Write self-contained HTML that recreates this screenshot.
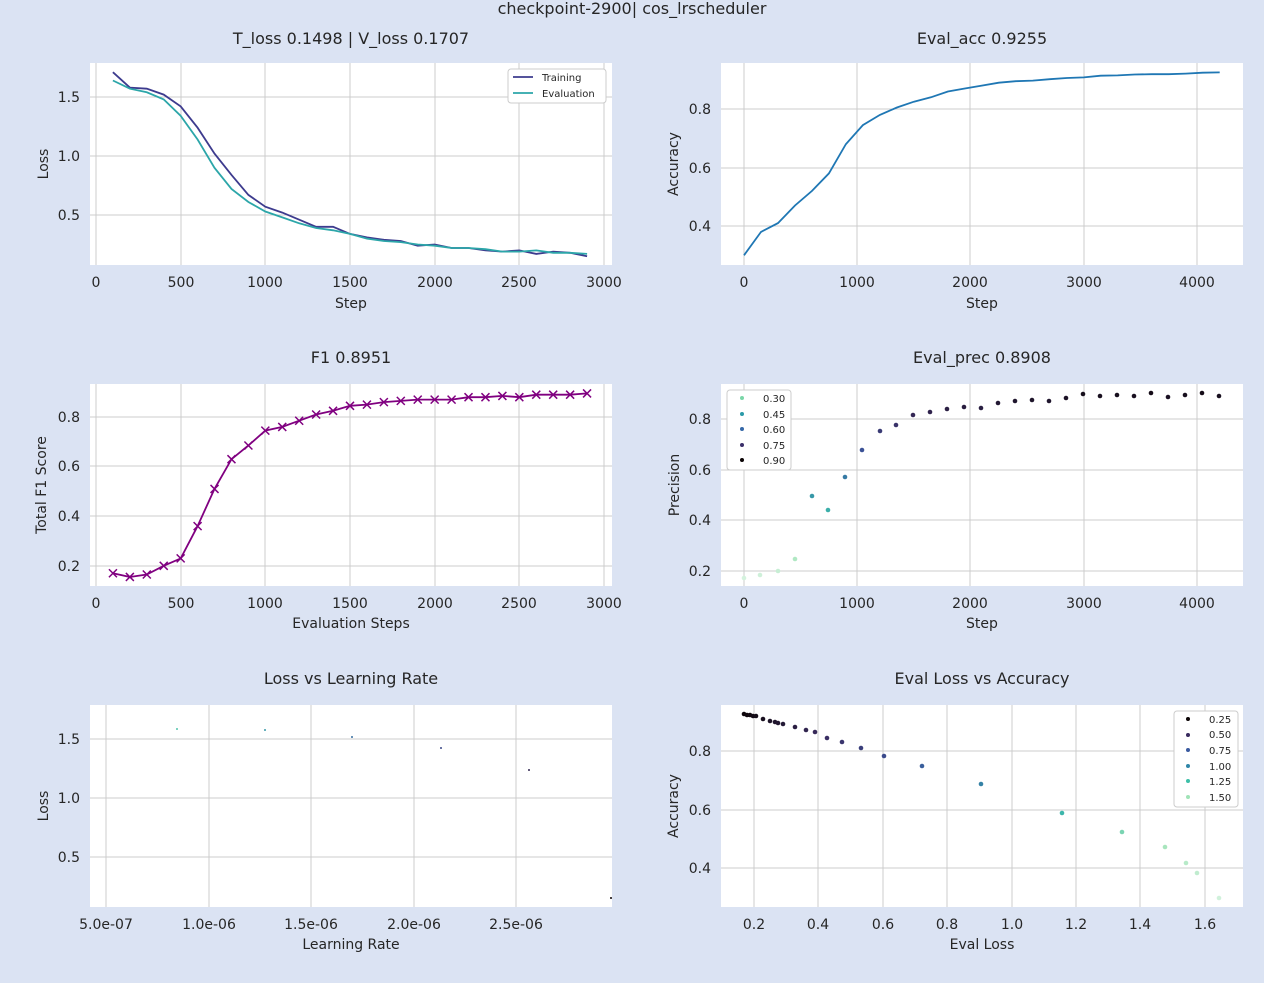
<!DOCTYPE html>
<html><head><meta charset="utf-8"><style>
html,body{margin:0;padding:0;background:#dbe3f3;}
svg{display:block;font-family:"DejaVu Sans","Liberation Sans",sans-serif;}
.t{font-size:16px;fill:#262626;text-anchor:middle}
.k{font-size:14px;fill:#262626}
.g{stroke:#cccccc;stroke-width:1}
</style></head><body>
<svg id="s" width="1264" height="983" xmlns="http://www.w3.org/2000/svg">
<rect width="1264" height="983" fill="#dbe3f3"/>
<text class="t" x="632" y="14">checkpoint-2900| cos_lrscheduler</text>
<rect x="90" y="63" width="522" height="202" fill="#fff"/>
<rect x="721" y="63" width="522" height="202" fill="#fff"/>
<rect x="90" y="384" width="522" height="202" fill="#fff"/>
<rect x="721" y="384" width="522" height="202" fill="#fff"/>
<rect x="90" y="705" width="522" height="202" fill="#fff"/>
<rect x="721" y="705" width="522" height="202" fill="#fff"/>
<g id="grids"></g>
<g id="data"></g>
<text class="t" x="351" y="44">T_loss 0.1498 | V_loss 0.1707</text>
<text class="t" x="982" y="44">Eval_acc 0.9255</text>
<text class="t" x="351" y="363">F1 0.8951</text>
<text class="t" x="982" y="363">Eval_prec 0.8908</text>
<text class="t" x="351" y="684">Loss vs Learning Rate</text>
<text class="t" x="982" y="684">Eval Loss vs Accuracy</text>
<g class="k" text-anchor="middle">
<text x="96" y="287">0</text><text x="181" y="287">500</text><text x="265" y="287">1000</text><text x="350" y="287">1500</text><text x="435" y="287">2000</text><text x="519" y="287">2500</text><text x="604" y="287">3000</text>
<text x="744" y="287">0</text><text x="857" y="287">1000</text><text x="970" y="287">2000</text><text x="1084" y="287">3000</text><text x="1197" y="287">4000</text>
<text x="96" y="608">0</text><text x="181" y="608">500</text><text x="265" y="608">1000</text><text x="350" y="608">1500</text><text x="435" y="608">2000</text><text x="519" y="608">2500</text><text x="604" y="608">3000</text>
<text x="744" y="608">0</text><text x="857" y="608">1000</text><text x="970" y="608">2000</text><text x="1084" y="608">3000</text><text x="1197" y="608">4000</text>
<text x="106" y="929">5.0e-07</text><text x="209" y="929">1.0e-06</text><text x="311" y="929">1.5e-06</text><text x="414" y="929">2.0e-06</text><text x="516" y="929">2.5e-06</text>
<text x="754" y="929">0.2</text><text x="818" y="929">0.4</text><text x="883" y="929">0.6</text><text x="947" y="929">0.8</text><text x="1012" y="929">1.0</text><text x="1076" y="929">1.2</text><text x="1140" y="929">1.4</text><text x="1205" y="929">1.6</text>
<text x="351" y="308">Step</text><text x="982" y="308">Step</text>
<text x="351" y="628">Evaluation Steps</text><text x="982" y="628">Step</text>
<text x="351" y="949">Learning Rate</text><text x="982" y="949">Eval Loss</text>
</g>
<g class="k" text-anchor="end">
<text x="80" y="102">1.5</text><text x="80" y="161">1.0</text><text x="80" y="220">0.5</text>
<text x="711" y="114">0.8</text><text x="711" y="173">0.6</text><text x="711" y="231">0.4</text>
<text x="80" y="422">0.8</text><text x="80" y="471">0.6</text><text x="80" y="521">0.4</text><text x="80" y="571">0.2</text>
<text x="711" y="424">0.8</text><text x="711" y="475">0.6</text><text x="711" y="525">0.4</text><text x="711" y="576">0.2</text>
<text x="80" y="744">1.5</text><text x="80" y="803">1.0</text><text x="80" y="862">0.5</text>
<text x="711" y="756">0.8</text><text x="711" y="815">0.6</text><text x="711" y="873">0.4</text>
</g>
<g class="k" text-anchor="middle">
<text transform="translate(48,164) rotate(-90)">Loss</text>
<text transform="translate(678,164) rotate(-90)">Accuracy</text>
<text transform="translate(46,485) rotate(-90)">Total F1 Score</text>
<text transform="translate(679,485) rotate(-90)">Precision</text>
<text transform="translate(48,806) rotate(-90)">Loss</text>
<text transform="translate(678,806) rotate(-90)">Accuracy</text>
</g>
<rect x="508" y="69" width="98" height="34" rx="3" fill="#fff" stroke="#ccc"/>
<line x1="513" y1="77" x2="533" y2="77" stroke="#3d3b8e" stroke-width="1.8"/>
<line x1="513" y1="93" x2="533" y2="93" stroke="#2ca6a9" stroke-width="1.8"/>
<text x="542" y="81" font-size="10" fill="#262626">Training</text>
<text x="542" y="97" font-size="10" fill="#262626">Evaluation</text>
<rect x="727" y="390" width="64" height="80" rx="3" fill="#fff" stroke="#ccc"/>
<g font-size="10" fill="#262626">
<circle cx="742" cy="398" r="2" fill="#7ad6a8"/><text x="763" y="402">0.30</text>
<circle cx="742" cy="414" r="2" fill="#2b9aa8"/><text x="763" y="418">0.45</text>
<circle cx="742" cy="429" r="2" fill="#3568a8"/><text x="763" y="433">0.60</text>
<circle cx="742" cy="445" r="2" fill="#3b2f6a"/><text x="763" y="449">0.75</text>
<circle cx="742" cy="460" r="2" fill="#0b0405"/><text x="763" y="464">0.90</text>
</g>
<rect x="1174" y="711" width="64" height="96" rx="3" fill="#fff" stroke="#ccc"/>
<g font-size="10" fill="#262626">
<circle cx="1188" cy="719" r="2" fill="#0b0405"/><text x="1209" y="723">0.25</text>
<circle cx="1188" cy="735" r="2" fill="#382a5e"/><text x="1209" y="738">0.50</text>
<circle cx="1188" cy="750" r="2" fill="#3a5aa0"/><text x="1209" y="754">0.75</text>
<circle cx="1188" cy="766" r="2" fill="#2f86a8"/><text x="1209" y="770">1.00</text>
<circle cx="1188" cy="781" r="2" fill="#3dbfa8"/><text x="1209" y="785">1.25</text>
<circle cx="1188" cy="797" r="2" fill="#a0e3b7"/><text x="1209" y="801">1.50</text>
</g>
</svg>
<script>
var NS="http://www.w3.org/2000/svg",G=document.getElementById("grids"),D=document.getElementById("data");
function el(p,t,a){var e=document.createElementNS(NS,t);for(var k in a)e.setAttribute(k,a[k]);p.appendChild(e);return e;}
function vl(xs,y0,y1){xs.forEach(function(x){el(G,"line",{x1:x,x2:x,y1:y0,y2:y1,"class":"g"});});}
function hl(ys,x0,x1){ys.forEach(function(y){el(G,"line",{x1:x0,x2:x1,y1:y,y2:y,"class":"g"});});}
var X1=[96,181,265,350,435,519,604],X2=[744,857,970,1084,1197];
vl(X1,63,265);hl([97,156,215],90,612);
vl(X2,63,265);hl([109,168,226],721,1243);
vl(X1,384,586);hl([417,466,516,566],90,612);
vl(X2,384,586);hl([419,470,520,571],721,1243);
vl([106,209,311,414,516],705,907);hl([739,798,857],90,612);
vl([754,818,883,947,1012,1076,1140,1205],705,907);hl([751,810,868],721,1243);
function px1(s){return 96+s*0.16933;}
function line(pts,c,w){el(D,"polyline",{points:pts.map(function(p){return p[0].toFixed(1)+","+p[1].toFixed(1)}).join(" "),fill:"none",stroke:c,"stroke-width":w});}
var tr=[1.71,1.58,1.57,1.52,1.42,1.24,1.02,0.84,0.67,0.57,0.52,0.46,0.40,0.40,0.34,0.31,0.29,0.28,0.24,0.25,0.22,0.22,0.20,0.19,0.20,0.17,0.19,0.18,0.15];
var ev=[1.64,1.57,1.54,1.48,1.34,1.14,0.90,0.72,0.61,0.53,0.48,0.43,0.39,0.37,0.34,0.30,0.28,0.27,0.25,0.24,0.22,0.22,0.21,0.19,0.19,0.20,0.18,0.18,0.17];
line(tr.map(function(v,i){return [px1(100*(i+1)),97+(1.5-v)*118];}),"#3d3b8e",1.8);
line(ev.map(function(v,i){return [px1(100*(i+1)),97+(1.5-v)*118];}),"#2ca6a9",1.8);
var acc=[0.30,0.38,0.41,0.47,0.52,0.58,0.68,0.745,0.78,0.805,0.825,0.84,0.86,0.87,0.88,0.89,0.895,0.897,0.902,0.906,0.908,0.914,0.915,0.918,0.919,0.919,0.921,0.924,0.925];
line(acc.map(function(v,i){return [744+150*i*0.11325,109+(0.8-v)*292.5];}),"#1f77b4",1.8);
var f1=[0.17,0.155,0.165,0.20,0.23,0.36,0.51,0.63,0.685,0.745,0.76,0.785,0.81,0.825,0.845,0.85,0.86,0.865,0.87,0.87,0.87,0.88,0.88,0.885,0.88,0.89,0.89,0.89,0.895];
var fp=f1.map(function(v,i){return [px1(100*(i+1)),417+(0.8-v)*248];});
line(fp,"#800080",1.8);
fp.forEach(function(p){el(D,"path",{d:"M"+(p[0]-4)+","+(p[1]-4)+"l8,8M"+(p[0]-4)+","+(p[1]+4)+"l8,-8",stroke:"#800080","stroke-width":1.5});});
function mako(t){
 var cs=[[222,245,229],[160,227,183],[62,188,171],[52,134,167],[59,84,153],[58,44,96],[11,4,5]];
 t=Math.max(0,Math.min(1,t))*(cs.length-1);var i=Math.min(Math.floor(t),cs.length-2),f=t-i;
 return "rgb("+cs[i].map(function(c,j){return Math.round(c+(cs[i+1][j]-c)*f)}).join(",")+")";}
var p4=[[744,578],[760,575],[778,571],[795,559],[812,496],[828,510],[845,477],[862,450],[880,431],[896,425],[913,415],[930,412],[947,409],[964,407],[981,408],[998,403],[1015,401],[1032,400],[1049,401],[1066,398],[1083,394],[1100,396],[1117,395],[1134,396],[1151,393],[1168,397],[1185,395],[1202,393],[1219,396]];
p4.forEach(function(p){var v=0.8-(p[1]-419)/253;el(D,"circle",{cx:p[0],cy:p[1],r:2.3,fill:mako((v-0.15)/0.78)});});
var p5=[[177,729],[265,730],[352,737],[441,748],[529,770],[611,898]];
p5.forEach(function(p,i){el(D,"circle",{cx:p[0],cy:p[1],r:1,fill:mako(0.3+i*0.14)});});
var p6=[[744,714],[747,715],[750,715],[753,716],[756,716],[763,719],[770,721],[775,722],[778,723],[783,724],[795,727],[806,730],[815,732],[827,738],[842,742],[861,748],[884,756],[922,766],[981,784],[1062,813],[1122,832],[1165,847],[1186,863],[1197,873],[1219,898]];
p6.forEach(function(p){var l=0.2+(p[0]-754)/322.5;el(D,"circle",{cx:p[0],cy:p[1],r:2.3,fill:mako(1-(l-0.15)/1.55)});});
</script>
</body></html>
